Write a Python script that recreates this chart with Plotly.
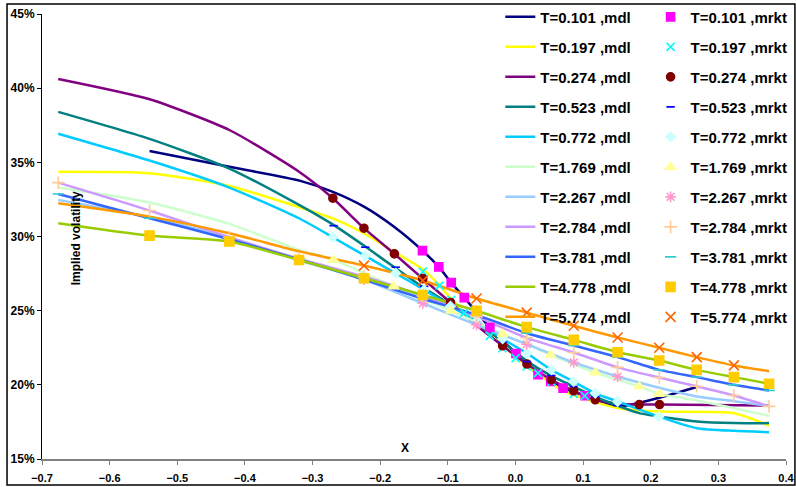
import plotly.graph_objects as go

# ---------------- data ----------------
labels = ["0.101", "0.197", "0.274", "0.523", "0.772", "1.769", "2.267", "2.784", "3.781", "4.778", "5.774"]

grid_long = [-0.676, -0.541, -0.423, -0.320, -0.224, -0.137, -0.0575, 0.0166, 0.0862, 0.151, 0.2126, 0.268, 0.323, 0.375]

mdl_x_0101 = [-0.541, -0.423, -0.318, -0.269, -0.224, -0.180, -0.1375, -0.1133, -0.095, -0.0757, -0.0624, -0.0378, 0.0007, 0.0333, 0.0521, 0.0704, 0.103, 0.151, 0.268]
mdl_y_0101 = [35.77, 34.7, 33.75, 32.99, 32.01, 30.67, 29.05, 27.95, 26.89, 25.88, 25.17, 23.86, 22.11, 20.69, 20.22, 19.78, 19.26, 18.54, 19.85]
mkt_x_0101 = [-0.1375, -0.1133, -0.095, -0.0757, -0.0378, 0.0007, 0.0333, 0.0521, 0.0704, 0.103]
mkt_y_0101 = [29.05, 27.95, 26.89, 25.88, 23.86, 22.11, 20.69, 20.22, 19.78, 19.26]

mdl_x_0197 = [-0.676, -0.541, -0.423, -0.320, -0.269, -0.224, -0.180, -0.137, -0.1133, -0.095, -0.0757, -0.0378, 0.0007, 0.0333, 0.0704, 0.118, 0.151, 0.212, 0.323, 0.375]
mdl_y_0197 = [34.37, 34.27, 33.41, 31.98, 31.2, 30.22, 28.98, 27.8, 26.75, 25.8, 24.9, 23.5, 21.85, 20.75, 19.6, 18.85, 18.43, 18.2, 18.09, 17.26]
mkt_x_0197 = [-0.137, -0.1123, -0.095, -0.0757, -0.0378, -0.0194, 0.0003, 0.0166, 0.0333, 0.0532, 0.0862, 0.1025]
mkt_y_0197 = [27.63, 26.69, 25.73, 24.85, 23.3, 22.47, 21.8, 21.24, 20.79, 20.22, 19.39, 19.26]

mdl_x_0274 = [-0.676, -0.541, -0.423, -0.320, -0.270, -0.224, -0.179, -0.137, -0.096, -0.057, -0.019, 0.017, 0.053, 0.086, 0.118, 0.150, 0.183, 0.213, 0.375]
mdl_y_0274 = [40.62, 39.25, 37.18, 34.37, 32.58, 30.56, 28.83, 27.16, 25.55, 24.0, 22.63, 21.40, 20.34, 19.60, 18.99, 18.75, 18.67, 18.67, 18.6]
mkt_x_0274 = [-0.270, -0.224, -0.179, -0.137, -0.096, -0.019, 0.017, 0.053, 0.086, 0.118, 0.183, 0.213]
mkt_y_0274 = [32.58, 30.56, 28.83, 27.16, 25.55, 22.63, 21.40, 20.34, 19.60, 18.99, 18.67, 18.67]

mdl_x_0523 = [-0.676, -0.541, -0.423, -0.320, -0.269, -0.222, -0.177, -0.135, -0.096, -0.057, -0.019, 0.017, 0.053, 0.086, 0.118, 0.151, 0.183, 0.268, 0.323, 0.375]
mdl_y_0523 = [38.4, 36.58, 34.58, 32.13, 30.78, 29.32, 27.86, 26.52, 25.4, 24.2, 22.9, 21.6, 20.6, 19.89, 19.2, 18.6, 18.09, 17.53, 17.42, 17.42]
mkt_x_0523 = [-0.269, -0.222, -0.177, -0.135, -0.096, -0.057, -0.019, 0.017, 0.053, 0.086, 0.118, 0.151]
mkt_y_0523 = [30.73, 29.28, 27.93, 26.63, 25.4, 24.2, 22.9, 21.57, 20.63, 19.89, 19.2, 18.6]

mdl_x_0772 = [-0.676, -0.541, -0.423, -0.320, -0.270, -0.222, -0.177, -0.135, -0.096, -0.057, -0.019, 0.017, 0.053, 0.086, 0.118, 0.151, 0.212, 0.268, 0.323, 0.375]
mdl_y_0772 = [36.93, 35.12, 33.30, 31.23, 29.95, 28.69, 27.52, 26.40, 25.3, 24.3, 23.1, 22.13, 21.01, 20.22, 19.43, 18.88, 17.86, 17.08, 16.90, 16.81]
mkt_x_0772 = [-0.270, -0.222, -0.177, -0.135, -0.096, -0.057, -0.019, 0.017, 0.053, 0.086, 0.118, 0.151, 0.212]
mkt_y_0772 = [29.95, 28.69, 27.52, 26.40, 25.3, 24.3, 23.1, 22.13, 21.01, 20.22, 19.43, 18.88, 17.86]

mdl_x_1769 = [-0.676, -0.541, -0.423, -0.320, -0.269, -0.180, -0.095, -0.019, 0.052, 0.118, 0.183, 0.2126, 0.268, 0.323, 0.375]
mdl_y_1769 = [33.3, 32.29, 30.85, 29.1, 28.42, 26.63, 24.99, 23.42, 22.02, 20.83, 19.89, 19.39, 18.95, 18.43, 17.91]
mkt_x_1769 = [-0.269, -0.180, -0.095, -0.019, 0.052, 0.118, 0.183, 0.2126]
mkt_y_1769 = [28.42, 26.63, 24.99, 23.42, 22.02, 20.83, 19.89, 19.39]

mdl_y_2267 = [32.47, 31.3, 29.9, 28.4, 27.1, 25.5, 24.04, 22.74, 21.51, 20.56, 19.8, 19.21, 18.9, 18.58]
mkt_x_2267 = [-0.224, -0.137, -0.0575, 0.0166, 0.0862, 0.151]
mkt_y_2267 = [27.1, 25.5, 24.04, 22.74, 21.51, 20.56]

mdl_y_2784 = [33.63, 31.75, 29.95, 28.5, 27.3, 26.0, 24.6, 23.17, 22.18, 21.18, 20.49, 19.9, 19.28, 18.55]
mdl_y_3781 = [32.87, 31.23, 29.82, 28.45, 27.1, 25.8, 24.72, 23.48, 22.65, 21.87, 21.01, 20.52, 20.0, 19.62]
mdl_y_4778 = [30.9, 30.06, 29.66, 28.42, 27.19, 26.06, 24.99, 23.89, 23.03, 22.2, 21.64, 21.01, 20.52, 20.07]
mkt_x_4778 = grid_long[1:]
mkt_y_4778 = mdl_y_4778[1:]
mdl_y_5774 = [32.24, 31.34, 30.22, 29.0, 28.04, 27.03, 25.82, 24.87, 23.98, 23.19, 22.5, 21.87, 21.31, 20.92]
mkt_x_5774 = grid_long[4:13]
mkt_y_5774 = mdl_y_5774[4:13]

mdl_x = [mdl_x_0101, mdl_x_0197, mdl_x_0274, mdl_x_0523, mdl_x_0772, mdl_x_1769,
         grid_long, grid_long, grid_long, grid_long, grid_long]
mdl_y = [mdl_y_0101, mdl_y_0197, mdl_y_0274, mdl_y_0523, mdl_y_0772, mdl_y_1769,
         mdl_y_2267, mdl_y_2784, mdl_y_3781, mdl_y_4778, mdl_y_5774]
mkt_x = [mkt_x_0101, mkt_x_0197, mkt_x_0274, mkt_x_0523, mkt_x_0772, mkt_x_1769,
         mkt_x_2267, grid_long, grid_long, mkt_x_4778, mkt_x_5774]
mkt_y = [mkt_y_0101, mkt_y_0197, mkt_y_0274, mkt_y_0523, mkt_y_0772, mkt_y_1769,
         mkt_y_2267, mdl_y_2784, mdl_y_3781, mkt_y_4778, mkt_y_5774]

# ---------------- styles ----------------
line_colors = ["#000080", "#FFFF00", "#800080", "#008080", "#00CCFF", "#CCFFCC",
               "#99CCFF", "#CC99FF", "#3366FF", "#99CC00", "#FF9900"]
mk_colors = ["#FF00FF", "#00FFFF", "#800000", "#0000FF", "#CCFFFF", "#FFFF99",
             "#FF99CC", "#FFCC99", "#33CCCC", "#FFCC00", "#FF6600"]
mk_symbols = ["square", "x-thin-open", "circle", "line-ew-open", "diamond", "triangle-up",
              "asterisk-open", "cross-thin-open", "line-ew-open", "square", "x-thin-open"]
mk_sizes = [8, 8, 8, 6, 7, 9, 9, 9, 8, 9, 10]

fig = go.Figure()
for i, lab in enumerate(labels):
    fig.add_trace(go.Scatter(
        x=mdl_x[i], y=[v / 100 for v in mdl_y[i]], mode="lines",
        name=f"T={lab} ,mdl", legend="legend", legendgroup=f"m{i}",
        line=dict(color=line_colors[i], width=2.5, shape="spline", smoothing=0.6),
    ))
for i, lab in enumerate(labels):
    c = mk_colors[i]
    fig.add_trace(go.Scatter(
        x=mkt_x[i], y=[v / 100 for v in mkt_y[i]], mode="markers",
        name=f"T={lab} ,mrkt", legend="legend2", legendgroup=f"k{i}",
        marker=dict(symbol=mk_symbols[i], color=c, size=mk_sizes[i],
                    line=dict(color=c, width=1.6)),
    ))

# paper area spans pixel rows 0..459; the axes occupy rows 14..459
H = 459.0
def py(p):
    return (H - p) / H

bold = dict(family="Arial", weight="bold", color="black")
leg_common = dict(y=py(0.6), xanchor="left", yanchor="top", maxheight=480,
                  bgcolor="rgba(0,0,0,0)", font=dict(size=15, **bold),
                  tracegroupgap=7.5, itemwidth=30)
fig.update_layout(
    width=796, height=487,
    margin=dict(l=42, r=10, t=0, b=28, autoexpand=False),
    paper_bgcolor="white", plot_bgcolor="white",
    showlegend=True,
    legend=dict(x=0.616, **leg_common),
    legend2=dict(x=0.818, **leg_common),
    xaxis=dict(range=[-0.7, 0.4], dtick=0.1, tick0=-0.7, tickformat=".1f",
               showgrid=False, zeroline=False, showline=True, linecolor="#808080",
               linewidth=2, ticks="outside", ticklen=4, tickcolor="#808080",
               ticklabelstandoff=4, automargin=False,
               tickfont=dict(size=11, **bold)),
    yaxis=dict(range=[0.15, 0.45], dtick=0.05, tickformat=".0%", domain=[0, py(14)],
               showgrid=False, zeroline=False, showline=True, linecolor="black",
               linewidth=1, ticks="outside", ticklen=4, tickcolor="black",
               automargin=False,
               tickfont=dict(size=12, **bold)),
    annotations=[
        dict(text="Implied volatility", xref="paper", yref="paper", x=0.046, y=py(238),
             xanchor="center", yanchor="middle",
             textangle=-90, showarrow=False, font=dict(size=12, **bold)),
        dict(text="X", xref="paper", yref="paper", x=0.488, y=py(448),
             xanchor="center", yanchor="middle",
             showarrow=False, font=dict(size=12, **bold)),
    ],
    shapes=[dict(type="rect", xref="paper", yref="paper",
                 x0=-0.047, x1=1.012, y0=py(485), y1=py(4),
                 line=dict(color="black", width=1.5), fillcolor="rgba(0,0,0,0)")],
)

fig.write_html("out.html")
